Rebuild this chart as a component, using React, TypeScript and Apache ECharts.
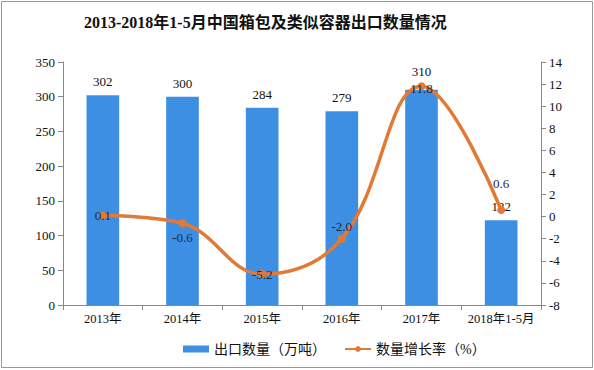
import React, { useEffect, useRef } from "react";
import * as echarts from "echarts";

const categories = ["2013年", "2014年", "2015年", "2016年", "2017年", "2018年1-5月"];
const exportVolume = [302, 300, 284, 279, 310, 122];
const exportLabelDist = [7, 7, 7, 7, 12, 7];
const growthRate = [0.1, -0.6, -5.2, -2.0, 11.8, 0.6];
const growthLabelPos = ["inside", "bottom", "inside", "top", "inside", "top"];
const growthLabelDist = [5, 4, 5, 2, 0, 16];
const growthLabelOffset = [[0, 0], [0, 0], [0, 0], [0, 0], [0, 2], [0, 0]];

const FONT = "'Liberation Serif', 'DejaVu Serif', 'Noto Sans CJK SC', serif";

export default function App() {
  const ref = useRef<HTMLDivElement>(null);
  useEffect(() => {
    if (!ref.current) return;
    const chart = echarts.init(ref.current, null, { renderer: "svg" });
    chart.setOption({
      animation: false,
      backgroundColor: "#fff",
      textStyle: { fontFamily: FONT },
      title: {
        text: "2013-2018年1-5月中国箱包及类似容器出口数量情况",
        left: 79,
        top: 9,
        textStyle: { fontSize: 16, fontWeight: "bold", color: "#111", fontFamily: FONT },
      },
      graphic: [
        {
          type: "rect",
          shape: { x: 1.5, y: 1.5, width: 591, height: 366 },
          style: { fill: "none", stroke: "#999", lineWidth: 1 },
          silent: true,
        },
      ],
      legend: {
        bottom: 9,
        left: 178,
        itemGap: 18,
        textStyle: { fontSize: 14, color: "#111", fontFamily: FONT },
        data: [
          { name: "出口数量（万吨）", icon: "rect", itemStyle: { color: "#3d8fe3" } },
          { name: "数量增长率（%）" },
        ],
        itemWidth: 26,
        itemHeight: 7,
      },
      grid: { left: 63, right: 53, top: 62, bottom: 65 },
      xAxis: {
        type: "category",
        data: categories,
        axisLine: { lineStyle: { color: "#888" } },
        axisTick: { show: true, alignWithLabel: false, lineStyle: { color: "#888" } },
        axisLabel: { color: "#111", fontSize: 12.5, margin: 8, interval: 0, fontFamily: FONT },
      },
      yAxis: [
        {
          type: "value",
          min: 0,
          max: 350,
          interval: 50,
          axisLine: { show: true, lineStyle: { color: "#888" } },
          axisTick: { show: true, lineStyle: { color: "#888" } },
          splitLine: { show: false },
          axisLabel: { color: "#111", fontSize: 13, fontFamily: FONT },
        },
        {
          type: "value",
          min: -8,
          max: 14,
          interval: 2,
          axisLine: { show: true, lineStyle: { color: "#888" } },
          axisTick: { show: true, lineStyle: { color: "#888" } },
          splitLine: { show: false },
          axisLabel: { color: "#111", fontSize: 13, fontFamily: FONT },
        },
      ],
      series: [
        {
          name: "出口数量（万吨）",
          type: "bar",
          data: exportVolume.map((v, i) => ({ value: v, label: { distance: exportLabelDist[i] } })),
          barWidth: "41%",
          itemStyle: { color: "#3d8fe3" },
          label: { show: true, position: "top", distance: 7, color: "#111", fontSize: 13, fontFamily: FONT },
        },
        {
          name: "数量增长率（%）",
          type: "line",
          yAxisIndex: 1,
          smooth: 0.4,
          data: growthRate.map((v, i) => ({
            value: v,
            label: {
              position: growthLabelPos[i],
              distance: growthLabelDist[i],
              offset: growthLabelOffset[i],
            },
          })),
          symbol: "circle",
          symbolSize: 8,
          lineStyle: { color: "#e27a36", width: 3.5 },
          itemStyle: { color: "#e27a36" },
          label: {
            show: true,
            color: "#1d2a44",
            fontSize: 13,
            fontFamily: FONT,
            formatter: (p: any) => Number(p.value).toFixed(1),
          },
        },
      ],
    });
    return () => chart.dispose();
  }, []);
  return <div ref={ref} style={{ width: 594, height: 370, position: "absolute", left: 0, top: 0 }} />;
}
